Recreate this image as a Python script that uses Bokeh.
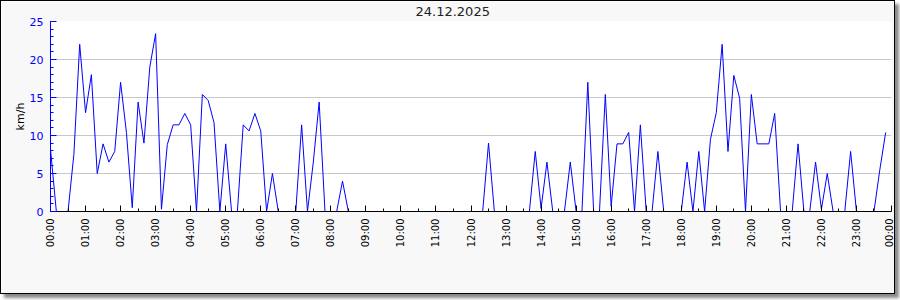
import numpy as np
from bokeh.plotting import figure
from bokeh.models import FixedTicker, Range1d
from bokeh.embed import file_html
from bokeh.resources import INLINE

title_text = "24.12.2025"
y_label = "km/h"
tick_hours = list(range(25))
tick_labels = ["00:00", "01:00", "02:00", "03:00", "04:00", "05:00", "06:00", "07:00",
               "08:00", "09:00", "10:00", "11:00", "12:00", "13:00", "14:00", "15:00",
               "16:00", "17:00", "18:00", "19:00", "20:00", "21:00", "22:00", "23:00", "00:00"]
y_ticks = [0, 5, 10, 15, 20, 25]

# wind speed, km/h, one sample every 10 minutes (00:00 .. 23:50)
speed = [
    8.2, 0, 0, 0, 7.5, 22.0, 13.0, 18.0, 5.0, 8.9, 6.5, 7.9,          # 00:00-01:50
    17.0, 10.4, 0.5, 14.4, 9.0, 19.0, 23.4, 0.3, 8.8, 11.4, 11.4, 12.9,  # 02:00-03:50
    11.4, 0, 15.4, 14.6, 11.7, 0, 8.9, 0, 0, 11.4, 10.6, 12.9,         # 04:00-05:50
    10.6, 0, 5.0, 0, 0, 0, 0, 11.4, 0, 6.5, 14.4, 0,                   # 06:00-07:50
    0, 0, 4.0, 0, 0, 0, 0, 0, 0, 0, 0, 0,                              # 08:00-09:50
    0, 0, 0, 0, 0, 0, 0, 0, 0, 0, 0, 0,                                # 10:00-11:50
    0, 0, 0, 9.0, 0, 0, 0, 0, 0, 0, 0, 7.9,                            # 12:00-13:50
    0.4, 6.5, 0, 0, 0, 6.5, 0, 0, 17.0, 0, 0, 15.4,                    # 14:00-15:50
    0.7, 8.9, 8.9, 10.4, 0, 11.4, 0, 0, 7.9, 0, 0, 0,                  # 16:00-17:50
    0, 6.5, 0, 7.9, 0, 9.5, 13.0, 22.0, 7.9, 17.9, 14.9, 0,            # 18:00-19:50
    15.4, 8.9, 8.9, 8.9, 12.9, 0, 0, 0, 8.9, 0, 0, 6.5,                # 20:00-21:50
    0.3, 5.0, 0, 0, 0, 7.9, 0, 0, 0, 0, 5.5, 10.4,                     # 22:00-23:50
]
sample_minutes = list(range(0, 24 * 60, 10))
x_hours = [m / 60 for m in sample_minutes]

FONT = "DejaVu Sans"

p = figure(width=895, height=294, output_backend="svg", toolbar_location=None,
           x_range=Range1d(0, 24), y_range=Range1d(0, 25),
           min_border_left=49, min_border_right=5, min_border_top=20, min_border_bottom=84,
           background_fill_color="white", border_fill_color="#f8f8f8",
           outline_line_color=None)

p.line(x_hours, speed, line_color="#0000ff", line_width=1)

# title
p.title.text = title_text
p.title.align = "left"
p.title.offset = 365
p.title.vertical_align = "top"
p.title.standoff = 8
p.title.text_line_height = 0.75
p.title.text_font = FONT
p.title.text_font_size = "13px"
p.title.text_font_style = "normal"
p.title.text_color = "#222222"

# x axis
xa = p.xaxis[0]
xa.ticker = FixedTicker(ticks=tick_hours, minor_ticks=[h + 0.5 for h in range(24)])
xa.major_label_overrides = {h: lab for h, lab in zip(tick_hours, tick_labels)}
xa.major_label_orientation = np.pi / 2
xa.major_label_text_font = FONT
xa.major_label_text_font_size = "10px"
xa.major_label_text_color = "black"
xa.major_label_standoff = 7
xa.axis_line_color = "black"
xa.major_tick_line_color = "black"
xa.minor_tick_line_color = "black"
xa.major_tick_in = 6
xa.major_tick_out = 0
xa.minor_tick_in = 3
xa.minor_tick_out = 0

# y axis
ya = p.yaxis[0]
ya.ticker = FixedTicker(ticks=y_ticks, minor_ticks=list(range(26)))
ya.axis_label = y_label
ya.axis_label_text_font = FONT
ya.axis_label_text_font_size = "11px"
ya.axis_label_text_font_style = "normal"
ya.axis_label_text_color = "black"
ya.axis_label_standoff = 0
ya.major_label_text_font = FONT
ya.major_label_text_font_size = "11px"
ya.major_label_text_color = "#0000ff"
ya.major_label_standoff = 7
ya.axis_line_color = "#0000ff"
ya.major_tick_line_color = "#0000ff"
ya.minor_tick_line_color = "#0000ff"
ya.major_tick_in = 6
ya.major_tick_out = 0
ya.minor_tick_in = 3
ya.minor_tick_out = 0

# grid
p.xgrid.visible = False
p.ygrid.ticker = FixedTicker(ticks=y_ticks[1:])
p.ygrid.grid_line_color = "#c8c8c8"

p.styles = {"border": "1px solid #000000", "box-shadow": "4px 4px 3px #8a8a8a"}

open("out.html", "w").write(file_html(p, INLINE))
